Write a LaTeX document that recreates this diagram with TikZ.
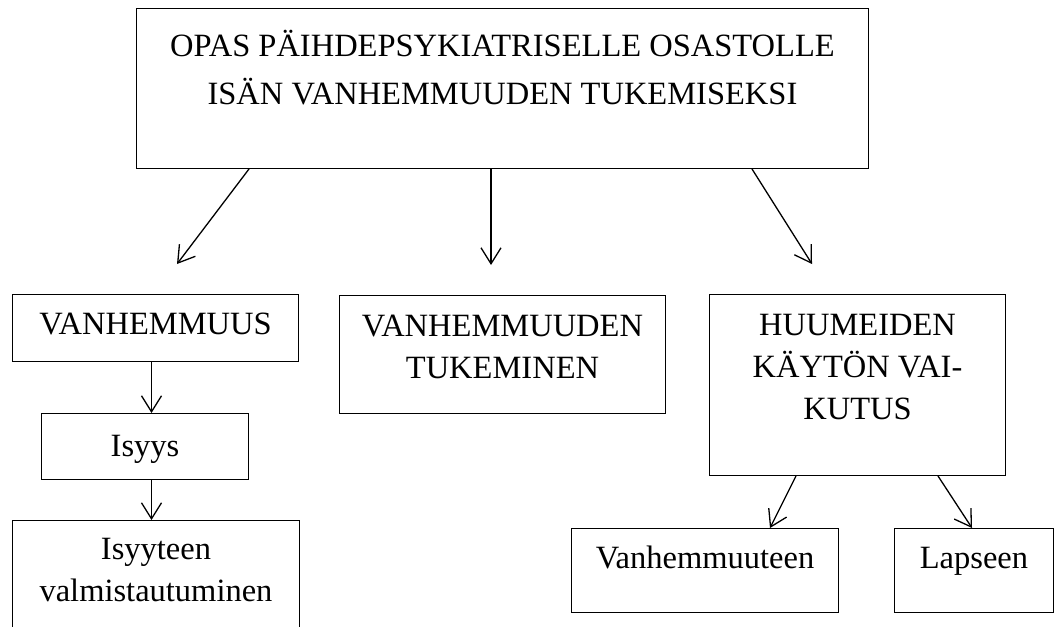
\documentclass[tikz,border=0pt]{standalone}
\usepackage{fontspec}
\setmainfont{Liberation Serif}
\usetikzlibrary{arrows.meta}
\tikzstyle{box} = [
    rectangle,
    draw=black,
    line width=1pt,
    inner sep=0pt,
    anchor=north west,
    font=\fontsize{32.5}{42}\selectfont
]
\tikzstyle{arrow} = [line width=1.3pt,-{Straight Barb[length=16pt,width=20pt]}]
% width, height, space above first line, text
\newcommand{\boxtext}[4]{\parbox[c][#2][t]{#1}{\centering\vspace*{#3}\strut#4\par}}

\begin{document}
\begin{tikzpicture}[x=1pt,y=-1pt]

\useasboundingbox (0,0) rectangle (1054,626);
\clip (0,0) rectangle (1054,626);

\node (guide) [box, font=\fontsize{32.5}{48}\selectfont] at (136,8)
{\boxtext{732pt}{160pt}{14pt}{OPAS PÄIHDEPSYKIATRISELLE OSASTOLLE\\ISÄN VANHEMMUUDEN TUKEMISEKSI}};

\node (parent) [box] at (12,294)
{\boxtext{286pt}{67pt}{11pt}{VANHEMMUUS}};

\node (father) [box] at (41,413)
{\boxtext{207pt}{66pt}{13.6pt}{Isyys}};

\node (prep) [box] at (12,520)
{\boxtext{287pt}{160pt}{9.6pt}{Isyyteen\\valmistautuminen}};

\node (support) [box] at (339,295)
{\boxtext{326pt}{118pt}{12pt}{VANHEMMUUDEN\\TUKEMINEN}};

\node (drugs) [box] at (709,294)
{\boxtext{296pt}{181pt}{11.6pt}{HUUMEIDEN\\KÄYTÖN VAI-\\KUTUS}};

\node (onparent) [box] at (571,528)
{\boxtext{267pt}{84pt}{10.6pt}{Vanhemmuuteen}};

\node (onchild) [box] at (894,528)
{\boxtext{159pt}{84pt}{10.6pt}{Lapseen}};

\coordinate (tipleft) at (177,264);
\coordinate (tipmid) at (491,265);
\coordinate (tipright) at (812,264);

\draw [arrow] ([xshift=113pt]guide.south west) -- (tipleft);
\draw [arrow] ([xshift=355pt]guide.south west) -- (tipmid);
\draw [arrow] ([xshift=616pt]guide.south west) -- (tipright);
\draw [arrow] ([xshift=-4pt]parent.south) -- ([xshift=-4pt]parent.south |- father.north);
\draw [arrow] ([xshift=-4pt]parent.south |- father.south) -- ([xshift=-4pt]parent.south |- prep.north);
\draw [arrow] ([xshift=87pt]drugs.south west) -- ([xshift=199pt]onparent.north west);
\draw [arrow] ([xshift=229pt]drugs.south west) -- ([xshift=78pt]onchild.north west);

\end{tikzpicture}
\end{document}
